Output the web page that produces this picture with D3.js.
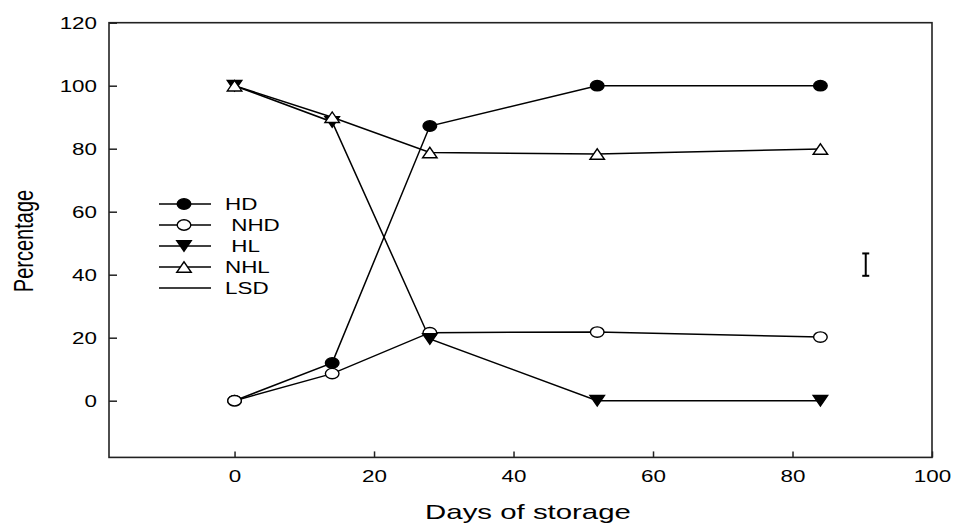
<!DOCTYPE html>
<html>
<head>
<meta charset="utf-8">
<script src="https://cdn.jsdelivr.net/npm/d3@7"></script>
<style>
  body { margin: 0; background: #fff; }
  svg text { font-family: "Liberation Sans", Arial, sans-serif; fill: #000; white-space: pre; }
</style>
</head>
<body>
<svg id="chart" width="955" height="525"></svg>
<script>
// data
var days = [0, 14, 28, 52, 84];
var hd  = [0, 12, 87.2, 100, 100];
var nhd = [0, 8.6, 21.6, 21.8, 20.2];
var hl  = [100, 88.5, 19.6, 0, 0];
var nhl = [100, 90, 78.8, 78.3, 79.9];
var lsdX = 90.5, lsdMid = 43.2, lsdVal = 7.1;

var legendLabels = ["HD", " NHD", " HL", "NHL", "LSD"];
var xTicks = [0, 20, 40, 60, 80, 100];
var yTicks = [0, 20, 40, 60, 80, 100, 120];

var sx = 1.4; // text in the picture is stretched sideways

var svg = d3.select("#chart");

var x = d3.scaleLinear().domain([-18, 100]).range([109, 932]);
var y = d3.scaleLinear().domain([-18, 120]).range([457.4, 22.7]);

// frame
svg.append("rect")
	.attr("x", x.range()[0])
	.attr("y", y.range()[1])
	.attr("width", x.range()[1] - x.range()[0])
	.attr("height", y.range()[0] - y.range()[1])
	.attr("fill", "none")
	.attr("stroke", "#222")
	.attr("stroke-width", 1.6)

// axes, ticks pointing inward
var yAxis = svg.append("g")
	.attr("transform", "translate(" + x.range()[0] + ",0)")
	.call(d3.axisLeft(y).tickValues(yTicks).tickSize(-8).tickSizeOuter(0))
yAxis.select(".domain").remove()
yAxis.selectAll("line").attr("stroke", "#222").attr("stroke-width", 1.5)
yAxis.selectAll("text")
	.attr("x", 0).attr("dy", "0.35em")
	.attr("font-size", 16)
	.attr("font-family", null)
	.attr("transform", "translate(-12,0) scale(" + sx + ",1)")

var xAxis = svg.append("g")
	.attr("transform", "translate(0," + y.range()[0] + ")")
	.call(d3.axisBottom(x).tickValues(xTicks).tickSize(-6).tickSizeOuter(0))
xAxis.select(".domain").remove()
xAxis.selectAll("line").attr("stroke", "#222").attr("stroke-width", 1.5)
xAxis.selectAll("text")
	.attr("y", 0).attr("dy", 0)
	.attr("font-size", 16)
	.attr("font-family", null)
	.attr("transform", "translate(0,25) scale(" + sx + ",1)")

// axis titles
svg.append("text")
	.text("Days of storage")
	.attr("font-size", 21)
	.attr("text-anchor", "middle")
	.attr("transform", "translate(528,519) scale(" + sx + ",1)")

svg.append("text")
	.text("Percentage")
	.attr("font-size", 20)
	.attr("text-anchor", "middle")
	.attr("transform", "translate(33,241) scale(" + sx + ",1) rotate(-90)")

// markers
function drawMarker(g, type, cx, cy) {
	if (type == "fcircle" || type == "ocircle") {
		g.append("ellipse")
			.attr("cx", cx).attr("cy", cy)
			.attr("rx", 6.8).attr("ry", 5.2)
			.attr("fill", type == "fcircle" ? "#000" : "#fff")
			.attr("stroke", "#000")
			.attr("stroke-width", 1.4)
	} else {
		var w = 14.5, h = 10.5;
		var pts = type == "dtri"
			? [[cx - w/2, cy - h/2], [cx + w/2, cy - h/2], [cx, cy + h/2]]
			: [[cx - w/2, cy + h/2], [cx + w/2, cy + h/2], [cx, cy - h/2]];
		g.append("path")
			.attr("d", "M" + pts.join("L") + "Z")
			.attr("fill", type == "dtri" ? "#000" : "#fff")
			.attr("stroke", "#000")
			.attr("stroke-width", 1.4)
			.attr("stroke-linejoin", "miter")
	}
}

var series = [
	{vals: hd, marker: "fcircle"},
	{vals: nhd, marker: "ocircle"},
	{vals: hl, marker: "dtri"},
	{vals: nhl, marker: "otri"}
];

var line = d3.line()
	.x(function(d) { return x(d[0]); })
	.y(function(d) { return y(d[1]); });

var lines = svg.append("g")
series.forEach(function(s) {
	lines.append("path")
		.datum(d3.zip(days, s.vals))
		.attr("d", line)
		.attr("fill", "none")
		.attr("stroke", "#000")
		.attr("stroke-width", 1.5)
})

var marks = svg.append("g")
series.forEach(function(s) {
	for (var i = 0; i < days.length; i++) {
		drawMarker(marks, s.marker, x(days[i]), y(s.vals[i]))
	}
})

// LSD bar
var lsd = svg.append("g").attr("stroke", "#000").attr("stroke-width", 2)
var lx = x(lsdX), ly0 = y(lsdMid - lsdVal / 2), ly1 = y(lsdMid + lsdVal / 2);
lsd.append("line").attr("x1", lx).attr("x2", lx).attr("y1", ly0).attr("y2", ly1)
lsd.append("line").attr("x1", lx - 3.5).attr("x2", lx + 3.5).attr("y1", ly0).attr("y2", ly0)
lsd.append("line").attr("x1", lx - 3.5).attr("x2", lx + 3.5).attr("y1", ly1).attr("y2", ly1)

// legend
var legend = svg.append("g").attr("transform", "translate(159,204)")
var legendMarkers = ["fcircle", "ocircle", "dtri", "otri", null];
legendLabels.forEach(function(lab, i) {
	var row = legend.append("g").attr("transform", "translate(0," + (i * 21) + ")")
	row.append("line")
		.attr("x1", 0).attr("x2", 52)
		.attr("y1", 0).attr("y2", 0)
		.attr("stroke", "#000")
		.attr("stroke-width", 1.5)
	if (legendMarkers[i]) drawMarker(row, legendMarkers[i], 25, 0)
	row.append("text")
		.text(lab)
		.attr("font-size", 16)
		.attr("transform", "translate(66,6) scale(" + sx + ",1)")
})
</script>
</body>
</html>
